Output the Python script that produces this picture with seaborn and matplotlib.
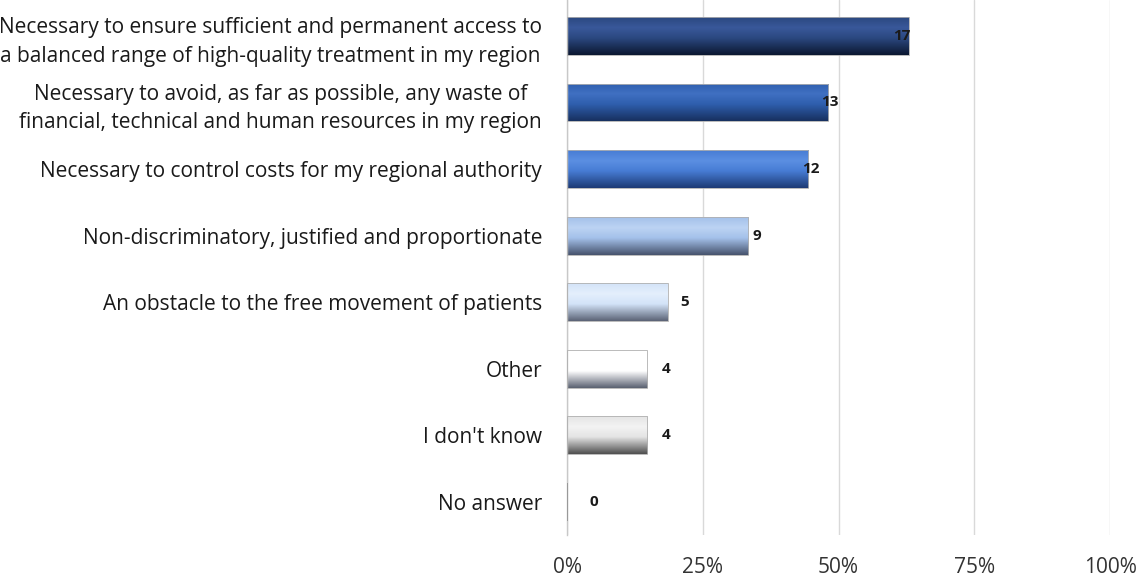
import numpy as np
import pandas as pd
import matplotlib
matplotlib.use("Agg")
import matplotlib.pyplot as plt
from matplotlib.colors import LinearSegmentedColormap
import seaborn as sns

# Survey answers (count of regions giving each answer, several answers allowed)
categories = [
    "Necessary to ensure sufficient and permanent access to\na balanced range of high-quality treatment in my region",
    "Necessary to avoid, as far as possible, any waste of\nfinancial, technical and human resources in my region",
    "Necessary to control costs for my regional authority",
    "Non-discriminatory, justified and proportionate",
    "An obstacle to the free movement of patients",
    "Other",
    "I don't know",
    "No answer",
]
counts = [17, 13, 12, 9, 5, 4, 4, 0]
respondents = 27
shares = [100.0 * c / respondents for c in counts]

x_ticks = [0, 25, 50, 75, 100]
x_tick_labels = ["0%", "25%", "50%", "75%", "100%"]

# Cylinder shading per bar: (top, highlight, bottom)
bar_shades = [
    ("#2b4880", "#39589a", "#0b1730"),
    ("#2f5fae", "#4070c2", "#17305f"),
    ("#477cd4", "#5b8fe2", "#1d3a74"),
    ("#a4c1ea", "#bcd3f3", "#46526c"),
    ("#d3e3f8", "#e4effc", "#5a6275"),
    ("#ffffff", "#ffffff", "#596070"),
    ("#e4e4e4", "#f3f3f3", "#4e4e4e"),
    ("#bbbbbb", "#d0d0d0", "#6a6a6a"),
]

sns.set_theme(style="white")
plt.rcParams["font.family"] = ["Open Sans", "DejaVu Sans"]

df = pd.DataFrame({"answer": categories, "share": shares})

fig = plt.figure(figsize=(11.42, 5.8), dpi=100)
ax = fig.add_axes([0.4965, 0.0776, 0.4755, 0.9224])

sns.barplot(data=df, x="share", y="answer", orient="h", width=0.57,
            color="#888888", edgecolor="#b0b0b0", linewidth=0.6, ax=ax,
            zorder=3)

# Paint a vertical gradient into each bar to give it a rounded look
grad = np.linspace(0, 1, 256).reshape(-1, 1)
for patch, shade in zip(ax.patches, bar_shades):
    cmap = LinearSegmentedColormap.from_list(
        "bar", [(0.0, shade[0]), (0.28, shade[1]), (0.55, shade[0]), (1.0, shade[2])])
    x0, y0 = patch.get_x(), patch.get_y()
    w, h = patch.get_width(), patch.get_height()
    if w <= 0:
        patch.set_edgecolor("#909090")
        patch.set_linewidth(1.2)
        continue
    patch.set_facecolor("none")
    im = ax.imshow(grad, extent=[x0, x0 + w, y0 + h, y0], aspect="auto",
                   cmap=cmap, zorder=2.5, interpolation="bilinear")
    im.set_clip_path(patch)

# Count labels beside each bar
for i, (c, s) in enumerate(zip(counts, shares)):
    ax.text(0.9 * s + 5, i, str(c), ha="center", va="center",
            fontsize=11, fontweight="bold", color="#1a1a1a", zorder=5)

ax.set_xlim(0, 100)
ax.set_ylim(7.5, -0.54)
ax.set_xticks(x_ticks)
ax.set_xticklabels(x_tick_labels, fontsize=15, color="#333333")
ax.tick_params(axis="x", length=0, pad=16)
ax.tick_params(axis="y", length=0, pad=18, labelsize=15, labelcolor="#1a1a1a")
for lbl in ax.get_yticklabels():
    lbl.set_multialignment("center")
    lbl.set_linespacing(1.45)
ax.set_xlabel("")
ax.set_ylabel("")

ax.xaxis.grid(True, color="#d9d9d9", linewidth=1.0, zorder=0)
ax.set_axisbelow(True)
for side in ["top", "right", "bottom"]:
    ax.spines[side].set_visible(False)
ax.spines["left"].set_color("#c8c8c8")
ax.spines["left"].set_linewidth(1.0)

fig.savefig("out.png", dpi=100, facecolor="white")
